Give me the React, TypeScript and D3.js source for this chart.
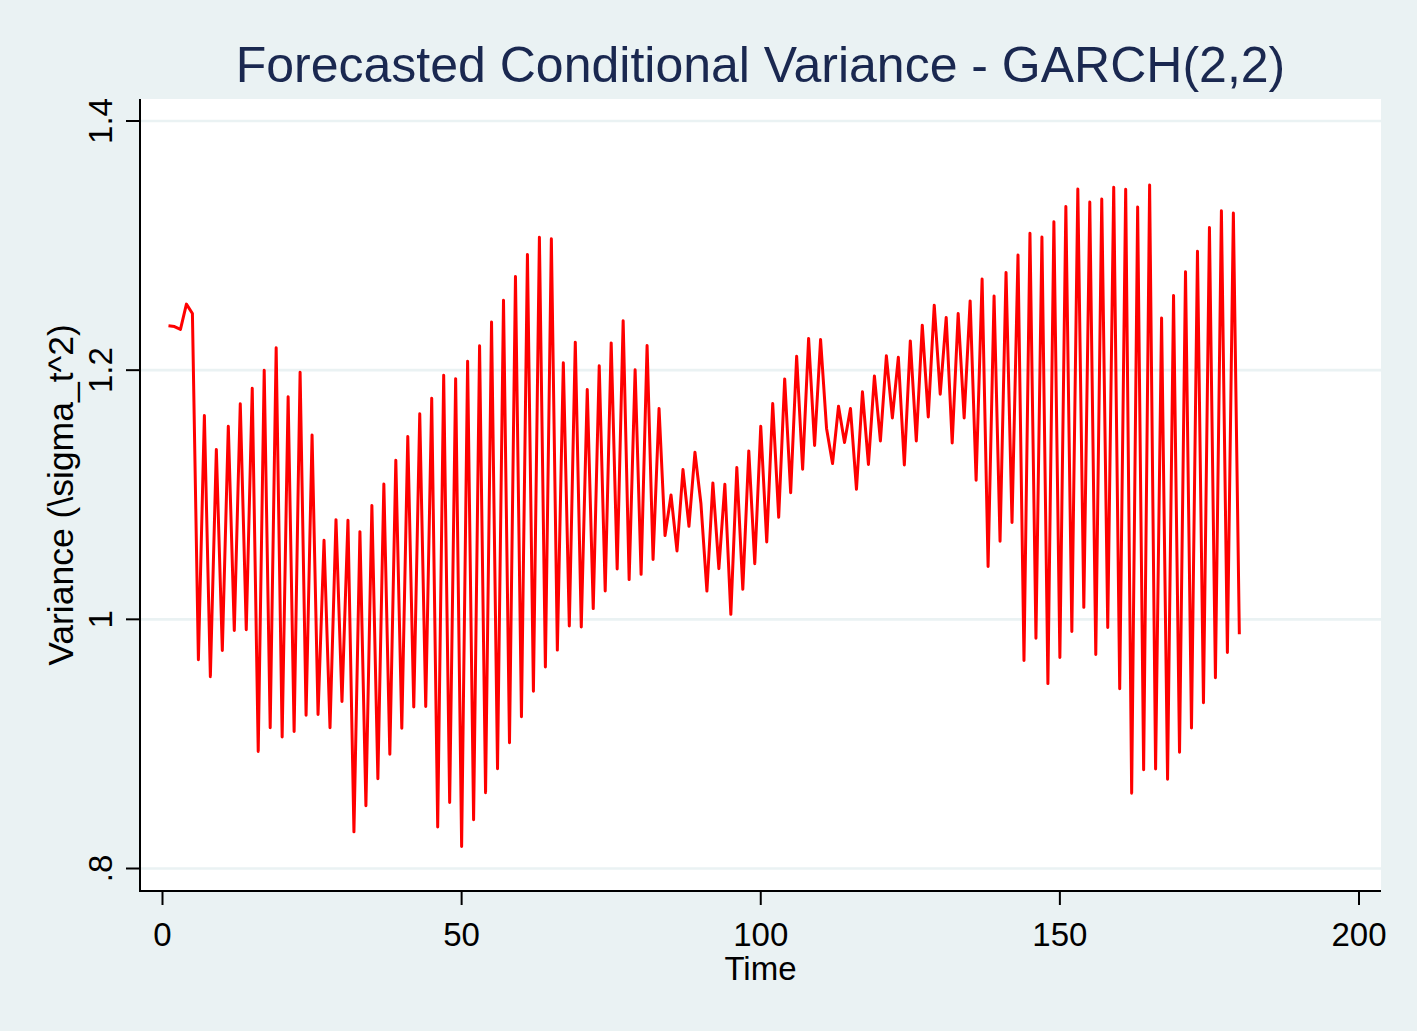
import * as d3 from "d3";

// forecast horizon t = 1..180
const variance: number[] = [
  1.2356, 1.235, 1.2327, 1.253, 1.2455, 0.9676, 1.1636, 0.954, 1.1363, 0.975,
  1.155, 0.991, 1.173, 0.9917, 1.1855, 0.894, 1.2, 0.913, 1.218, 0.9055,
  1.1786, 0.91, 1.1984, 0.923, 1.148, 0.9237, 1.0635, 0.913, 1.08, 0.934,
  1.0795, 0.8294, 1.0704, 0.8503, 1.0914, 0.872, 1.1087, 0.8917, 1.1277, 0.9126,
  1.1468, 0.9297, 1.165, 0.93, 1.1775, 0.8333, 1.1959, 0.853, 1.1932, 0.8176,
  1.2071, 0.8392, 1.2195, 0.8609, 1.2386, 0.88, 1.2562, 0.9009, 1.2752, 0.9219,
  1.2929, 0.9422, 1.3067, 0.9618, 1.3054, 0.9753, 1.2059, 0.9946, 1.2225, 0.9938,
  1.1845, 1.0086, 1.2035, 1.0227, 1.2219, 1.0404, 1.2396, 1.0319, 1.2003, 1.0361,
  1.2198, 1.048, 1.1692, 1.0672, 1.0998, 1.0549, 1.1202, 1.0747, 1.1341, 1.093,
  1.0227, 1.1095, 1.0407, 1.1084, 1.004, 1.1218, 1.0241, 1.1352, 1.0447, 1.155,
  1.0621, 1.1732, 1.0819, 1.193, 1.1017, 1.2112, 1.1205, 1.2255, 1.1395, 1.2246,
  1.1532, 1.1251, 1.1711, 1.1419, 1.1692, 1.1044, 1.1826, 1.1243, 1.1954, 1.1432,
  1.2115, 1.1617, 1.2104, 1.1239, 1.2235, 1.1432, 1.2361, 1.1625, 1.2522, 1.1807,
  1.2423, 1.1416, 1.2455, 1.1617, 1.2556, 1.1116, 1.2731, 1.0424, 1.2596, 1.0627,
  1.2784, 1.0777, 1.2925, 0.9669, 1.3099, 0.9848, 1.3069, 0.9484, 1.3191, 0.9693,
  1.3313, 0.9903, 1.3455, 1.0096, 1.3349, 0.9718, 1.3374, 0.9934, 1.3468, 0.9443,
  1.3452, 0.8605, 1.3309, 0.8792, 1.3487, 0.8798, 1.2419, 0.8717, 1.2599, 0.8933,
  1.279, 0.9127, 1.2954, 0.9331, 1.3145, 0.9531, 1.328, 0.9734, 1.3261, 0.988,
];

const xTicks = [0, 50, 100, 150, 200];
const yTicks = [0.8, 1, 1.2, 1.4];
const yTickLabels = [".8", "1", "1.2", "1.4"];

const W = 1417;
const H = 1031;
const bg = "#eaf2f3";
const font = "'Liberation Sans', Arial, sans-serif";

export default function App() {
  // plot region (white box)
  const left = 140;
  const right = 1381;
  const top = 99;
  const bottom = 891;

  const x = d3.scaleLinear().domain([0, 200]).range([162.5, 1359]);
  const y = d3.scaleLinear().domain([0.8, 1.4]).range([868.5, 121]);

  const line = d3
    .line<number>()
    .x((_, i) => x(i + 1))
    .y((d) => y(d));

  return (
    <svg
      width={W}
      height={H}
      style={{ position: "absolute", left: 0, top: 0, fontFamily: font }}
    >
      <rect x={0} y={0} width={W} height={H} fill={bg} />
      <rect x={left} y={top} width={right - left} height={bottom - top} fill="#fff" />

      {yTicks.map((t) => (
        <line key={"g" + t} x1={left} x2={right} y1={y(t)} y2={y(t)} stroke={bg} strokeWidth={2.6} />
      ))}

      <path d={line(variance) ?? ""} fill="none" stroke="#ff0000" strokeWidth={3} strokeLinejoin="round" />

      {/* axes */}
      <line x1={left} x2={left} y1={top} y2={bottom} stroke="#000" strokeWidth={2} />
      <line x1={left - 1} x2={right} y1={bottom} y2={bottom} stroke="#000" strokeWidth={2} />

      {yTicks.map((t, i) => (
        <g key={"y" + t}>
          <line x1={left - 14} x2={left} y1={y(t)} y2={y(t)} stroke="#000" strokeWidth={2} />
          <text
            transform={`translate(112,${y(t)}) rotate(-90)`}
            textAnchor="middle"
            fontSize={33}
            fill="#000"
          >
            {yTickLabels[i]}
          </text>
        </g>
      ))}

      {xTicks.map((t) => (
        <g key={"x" + t}>
          <line x1={x(t)} x2={x(t)} y1={bottom} y2={bottom + 14} stroke="#000" strokeWidth={2} />
          <text x={x(t)} y={946} textAnchor="middle" fontSize={33} fill="#000">
            {t}
          </text>
        </g>
      ))}

      <text x={(left + right) / 2} y={980} textAnchor="middle" fontSize={33} fill="#000">
        Time
      </text>
      <text
        transform={`translate(73,${(top + bottom) / 2}) rotate(-90)`}
        textAnchor="middle"
        fontSize={35.5}
        fill="#000"
      >
        Variance (\sigma_t^2)
      </text>

      <text x={(left + right) / 2} y={82} textAnchor="middle" fontSize={50} fill="#1a2850">
        Forecasted Conditional Variance - GARCH(2,2)
      </text>
    </svg>
  );
}
